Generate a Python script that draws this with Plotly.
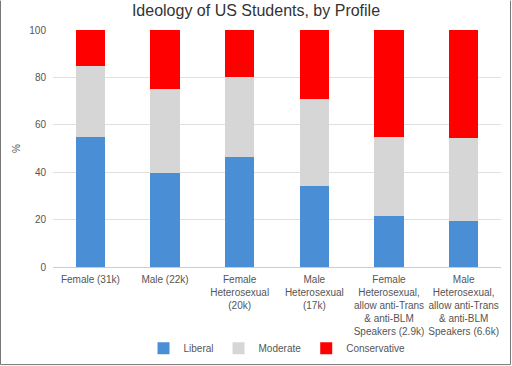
import plotly.graph_objects as go

categories = [
    "Female (31k)",
    "Male (22k)",
    "Female<br>Heterosexual<br>(20k)",
    "Male<br>Heterosexual<br>(17k)",
    "Female<br>Heterosexual,<br>allow anti-Trans<br>& anti-BLM<br>Speakers (2.9k)",
    "Male<br>Heterosexual,<br>allow anti-Trans<br>& anti-BLM<br>Speakers (6.6k)",
]
liberal = [55, 39.5, 46.5, 34, 21.5, 19.5]
moderate = [30, 35.5, 33.5, 37, 33.2, 34.9]
conservative = [15, 25, 20, 29, 45.3, 45.6]
y_ticks = [0, 20, 40, 60, 80, 100]

W, H = 512, 366
ML, MR, MT, MB = 53, 11, 29.5, 98.5
FONT = "Liberation Sans, Arial, sans-serif"
TXT = "#555555"

fig = go.Figure()
for name, vals, color in [
    ("Liberal", liberal, "#4a8fd6"),
    ("Moderate", moderate, "#d6d6d6"),
    ("Conservative", conservative, "#ff0000"),
]:
    fig.add_trace(go.Bar(x=categories, y=vals, name=name,
                         marker=dict(color=color, line=dict(width=0)),
                         width=0.39))

pw = W - ML - MR
ph = H - MT - MB
x0 = -(ML - 0.5) / pw
x1 = 1 + (MR - 1.5) / pw
yb = -(MB - 0.5) / ph
shapes = [
    dict(type="line", xref="paper", yref="paper", x0=x0, x1=x0, y0=yb, y1=1 + MT / ph,
         line=dict(color="#777777", width=1)),
    dict(type="line", xref="paper", yref="paper", x0=x1, x1=x1, y0=yb, y1=1 + MT / ph,
         line=dict(color="#777777", width=1)),
    dict(type="line", xref="paper", yref="paper", x0=x0, x1=x1, y0=yb, y1=yb,
         line=dict(color="#777777", width=1)),
]

fig.update_layout(
    width=W, height=H,
    margin=dict(l=ML, r=MR, t=MT, b=MB, autoexpand=False),
    barmode="stack",
    paper_bgcolor="white", plot_bgcolor="white",
    font=dict(family=FONT, size=10, color=TXT),
    title=dict(text="Ideology of US Students, by Profile", x=0.5, xanchor="center",
               y=1 - 10 / H, yanchor="middle",
               font=dict(family=FONT, size=16, color="#333333")),
    xaxis=dict(showgrid=False, showline=True, linecolor="#cccccc", ticks="",
               automargin=False, ticklabelstandoff=3,
               tickfont=dict(size=10, color=TXT), tickangle=0),
    yaxis=dict(range=[0, 100], tickvals=y_ticks, showgrid=True, gridcolor="#e0e0e0",
               zeroline=False, ticks="", ticklabelstandoff=6, automargin=False,
               tickfont=dict(size=10, color=TXT),
               title=dict(text="%", font=dict(size=10, color=TXT), standoff=6)),
    legend=dict(orientation="h", x=0.5, xanchor="center", y=-(349 - MT - ph) / ph,
                yanchor="middle", font=dict(size=10, color=TXT),
                bgcolor="rgba(0,0,0,0)",
                itemwidth=30, traceorder="normal"),
    shapes=shapes,
)

fig.write_html("out.html", config={"displayModeBar": False},
               post_script="document.body.style.margin='0';")
